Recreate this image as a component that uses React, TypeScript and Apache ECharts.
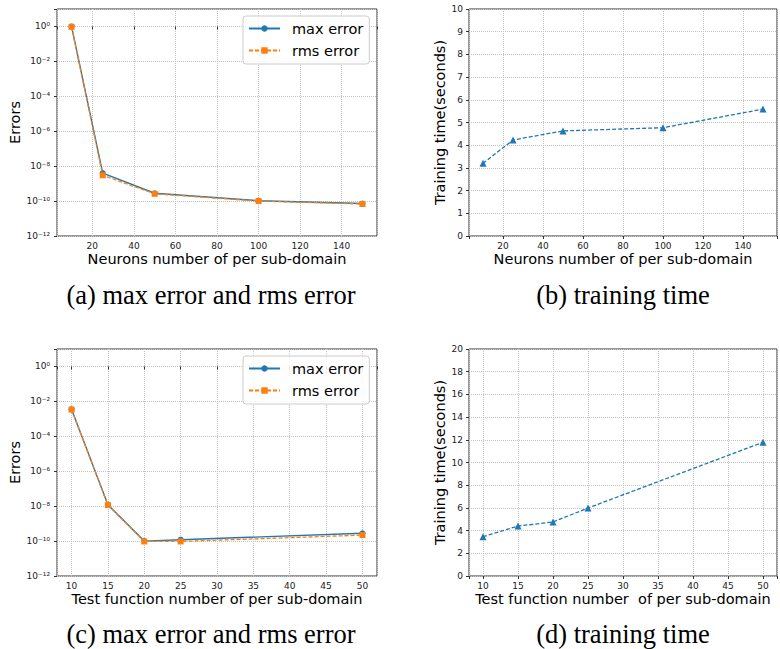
import React, { useEffect, useRef } from "react";
import * as echarts from "echarts";

// ---- data ----
const xNeurons = [10, 25, 50, 100, 150];
const maxErrA = [1.0, 4.0e-9, 2.8e-10, 1.05e-10, 7.2e-11];
const rmsErrA = [0.95, 3.0e-9, 2.6e-10, 1.0e-10, 6.8e-11];
const timeB = [3.2, 4.23, 4.63, 4.77, 5.59];

const xTest = [10, 15, 20, 25, 50];
const maxErrC = [3.5e-3, 1.2e-8, 1.0e-10, 1.2e-10, 2.8e-10];
const rmsErrC = [3.4e-3, 1.15e-8, 9.5e-11, 9.5e-11, 2.2e-10];
const timeD = [3.46, 4.4, 4.76, 5.99, 11.78];

const seriesNames = ["max error", "rms error"];
const captions = [
  "(a) max error and rms error",
  "(b) training time",
  "(c) max error and rms error",
  "(d) training time",
];
const xTitles = [
  "Neurons number of per sub-domain",
  "Neurons number of per sub-domain",
  "Test function number of per sub-domain",
  "Test function number  of per sub-domain",
];
const yTitles = ["Errors", "Training time(seconds)", "Errors", "Training time(seconds)"];

const BLUE = "#1f77b4";
const ORANGE = "#ff7f0e";
const FONT = "DejaVu Sans";

const SUP: Record<string, string> = {
  "-": "\u207B",
  "0": "\u2070",
  "1": "\u00B9",
  "2": "\u00B2",
  "3": "\u00B3",
  "4": "\u2074",
  "5": "\u2075",
  "6": "\u2076",
  "7": "\u2077",
  "8": "\u2078",
  "9": "\u2079",
};
const powLabel = (v: number) => {
  if (Math.abs(v % 2) > 1e-9) return "";
  const s = String(Math.round(v));
  return "10" + s.split("").map((c) => SUP[c] || c).join("");
};

const toLog = (xs: number[], ys: number[]) => xs.map((x, i) => [x, Math.log10(ys[i])]);
const toPts = (xs: number[], ys: number[]) => xs.map((x, i) => [x, ys[i]]);

export default function App() {
  const ref = useRef<HTMLDivElement>(null);
  useEffect(() => {
    if (!ref.current) return;
    const chart = echarts.init(ref.current, null, { renderer: "svg" });

    const grids = [
      { left: 57, top: 9, width: 320, height: 227 },
      { left: 469, top: 9, width: 320, height: 227 },
      { left: 57, top: 349, width: 320, height: 227 },
      { left: 469, top: 349, width: 320, height: 227 },
    ].map((g) => ({
      ...g,
      show: true,
      borderColor: "#333",
      borderWidth: 1,
      backgroundColor: "transparent",
      containLabel: false,
    }));

    const splitLine = { show: true, lineStyle: { color: "#c4c4c4", type: "dotted" as const, width: 1 } };
    const tick = { show: true, length: 3, lineStyle: { color: "#333", width: 1 } };
    const axisLine = { show: false };
    const tickLabel = { fontFamily: FONT, fontSize: 9, color: "#222" };
    const nameStyle = { fontFamily: FONT, fontSize: 14.5, color: "#000" };

    const xRanges = [
      { min: 3, max: 157, step: 20 },
      { min: 3, max: 157, step: 20 },
      { min: 8, max: 52, step: 5 },
      { min: 8, max: 52, step: 5 },
    ];
    const xAxis = xRanges.map((r, i) => ({
      type: "value",
      gridIndex: i,
      min: r.min,
      max: r.max,
      minInterval: r.step,
      maxInterval: r.step,
      splitNumber: 8,
      axisLine,
      axisTick: tick,
      splitLine,
      axisLabel: {
        ...tickLabel,
        margin: 5,
        showMinLabel: true,
        showMaxLabel: true,
        formatter: (v: number) => (Math.abs(v % r.step) < 1e-9 ? String(v) : ""),
      },
      name: xTitles[i],
      nameLocation: "middle",
      nameGap: 15,
      nameTextStyle: { ...nameStyle, verticalAlign: "top" },
    }));

    const yAxis = [0, 1, 2, 3].map((i) => {
      const isLog = i === 0 || i === 2;
      const base: any = {
        type: "value",
        gridIndex: i,
        axisLine,
        axisTick: tick,
        splitLine,
        name: yTitles[i],
        nameLocation: "middle",
        nameTextStyle: nameStyle,
      };
      if (isLog) {
        return {
          ...base,
          min: -12,
          max: 1,
          interval: 2,
          nameGap: 28,
          axisLabel: { ...tickLabel, margin: 7, formatter: powLabel, showMaxLabel: true },
        };
      }
      const maxV = i === 1 ? 10 : 20;
      const step = i === 1 ? 1 : 2;
      return {
        ...base,
        min: 0,
        max: maxV,
        interval: step,
        nameGap: 19,
        axisLabel: { ...tickLabel, margin: 6 },
      };
    });

    const errSeries = (idx: number, xs: number[], mx: number[], rms: number[]) => [
      {
        type: "line",
        name: seriesNames[0],
        xAxisIndex: idx,
        yAxisIndex: idx,
        data: toLog(xs, mx),
        symbol: "circle",
        symbolSize: 6,
        lineStyle: { color: BLUE, width: 1.4 },
        itemStyle: { color: BLUE },
        z: 3,
      },
      {
        type: "line",
        name: seriesNames[1],
        xAxisIndex: idx,
        yAxisIndex: idx,
        data: toLog(xs, rms),
        symbol: "rect",
        symbolSize: 6,
        lineStyle: { color: ORANGE, width: 1.3, type: [4, 2] },
        itemStyle: { color: ORANGE },
        z: 4,
      },
    ];
    const timeSeries = (idx: number, xs: number[], ys: number[]) => ({
      type: "line",
      name: "training time",
      xAxisIndex: idx,
      yAxisIndex: idx,
      data: toPts(xs, ys),
      symbol: "triangle",
      symbolSize: 7,
      lineStyle: { color: BLUE, width: 1.3, type: [4, 2] },
      itemStyle: { color: BLUE },
    });

    const legendBase = {
      orient: "vertical",
      left: 243,
      data: seriesNames,
      itemWidth: 31,
      itemHeight: 8,
      itemGap: 5,
      padding: [4, 6, 5, 5],
      backgroundColor: "rgba(255,255,255,0.85)",
      borderColor: "#cccccc",
      borderWidth: 1,
      borderRadius: 3,
      selectedMode: false,
      textStyle: { fontFamily: FONT, fontSize: 14.5, color: "#000", lineHeight: 17, padding: [0, 0, 0, 7] },
    };

    const capStyle = { fontFamily: "Liberation Serif", fontSize: 26.5, fill: "#000" };
    const capPos = [
      [211, 295],
      [623, 295],
      [211, 634],
      [623, 634],
    ];

    chart.setOption({
      animation: false,
      backgroundColor: "#ffffff",
      grid: grids,
      xAxis,
      yAxis,
      legend: [
        { ...legendBase, top: 16 },
        { ...legendBase, top: 356 },
      ],
      series: [
        ...errSeries(0, xNeurons, maxErrA, rmsErrA),
        timeSeries(1, xNeurons, timeB),
        ...errSeries(2, xTest, maxErrC, rmsErrC),
        timeSeries(3, xTest, timeD),
      ],
      graphic: captions.map((t, i) => ({
        type: "text",
        x: capPos[i][0],
        y: capPos[i][1],
        style: { ...capStyle, text: t, textAlign: "center", textVerticalAlign: "middle" },
      })),
    });
    return () => chart.dispose();
  }, []);
  return (
    <div
      ref={ref}
      style={{ position: "absolute", left: 0, top: 0, width: 780, height: 649, background: "#fff" }}
    />
  );
}
